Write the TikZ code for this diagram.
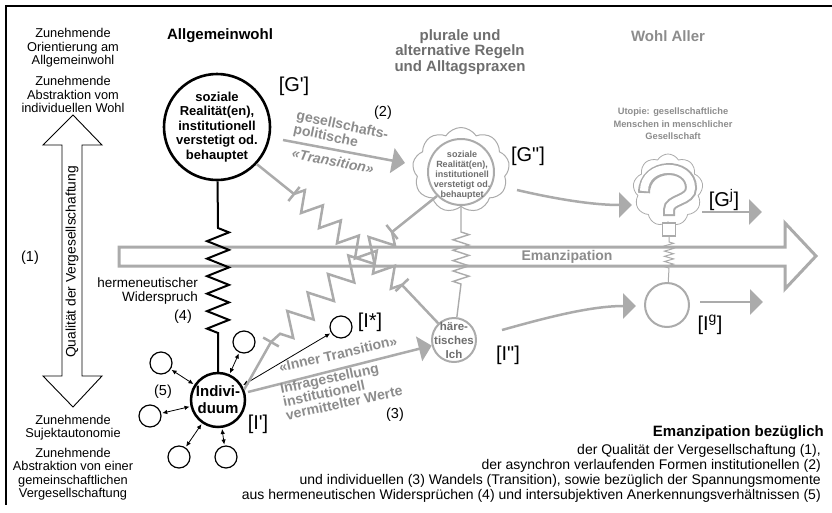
\documentclass[tikz,border=0pt]{standalone}
\usepackage{fontspec}
\setmainfont{Liberation Sans}
\usetikzlibrary{positioning,calc,arrows.meta,decorations.pathmorphing,shapes.symbols}
\definecolor{linegray}{HTML}{ABABAB}
\definecolor{txtgray}{HTML}{8C8C8C}
\definecolor{ttlgray}{HTML}{6E6E6E}
\newcommand{\fs}[2]{\fontsize{#1}{#2}\selectfont}

\begin{document}
\begin{tikzpicture}[x=1pt,y=-1pt,
  every node/.style={inner sep=0pt},
  side/.style={font=\fs{12.8}{13.5}, align=center},
  ttl/.style={font=\bfseries\fs{15}{15.5}, align=center},
  num/.style={font=\fs{14.5}{16}},
  lbl/.style={font=\fs{20}{22}},
  gtxt/.style={text=txtgray, font=\bfseries\fs{14}{14}},
  gline/.style={draw=linegray, line width=2.5pt},
  garrow/.style={gline, -{Triangle[length=13pt,width=25pt]}},
  gzz/.style={decorate, decoration={zigzag, segment length=#1, amplitude=10pt}},
  ring/.style={circle, draw, fill=white},
  sat/.style={ring, line width=1.2pt, minimum size=22pt},
  link/.style={{Latex[length=5pt,width=4.5pt]}-{Latex[length=5pt,width=4.5pt]}, line width=0.8pt, shorten <=1pt, shorten >=1pt}]
  \useasboundingbox (0,0) rectangle (832,512);
  % frame
  \draw[line width=1.2pt] (832,6) -- (6,6) -- (6,505);

  % left double arrow
  \draw[line width=0.9pt, fill=white] (73,115) -- (102,145) -- (82,145) -- (82,376) -- (102,376)
    -- (73,407) -- (43,376) -- (62,376) -- (62,145) -- (43,145) -- cycle;
  \node[font=\fs{13.8}{14}, rotate=90] (qual) at (72,262) {Qualität der Vergesellschaftung};
  \node[num] (n1) at (30,258) {(1)};
  \node[side] (orient) at (73,48) {Zunehmende\\Orientierung am\\Allgemeinwohl};
  \node[side] (abstr) at (73,94.5) {Zunehmende\\Abstraktion vom\\individuellen Wohl};
  \node[side] (auton) at (73,427.5) {Zunehmende\\Sujektautonomie};
  \node[side] (gemein) at (73,474) {Zunehmende\\Abstraktion von einer\\gemeinschaftlichen\\Vergesellschaftung};

  % Emanzipation arrow
  \draw[gline, line width=3pt, fill=white, line join=miter] (119,247) -- (785,247) -- (785,223)
    -- (816,256) -- (785,289) -- (785,266) -- (119,266) -- cycle;
  \node[gtxt] (eman) at (567,257) {Emanzipation};

  % titles
  \node[ttl] (allg) at (220,36) {Allgemeinwohl};
  \node[ttl, text=ttlgray] (plural) at (460,52) {plurale und\\alternative Regeln\\und Alltagspraxen};
  \node[ttl, text=txtgray] (aller) at (668,36) {Wohl Aller};
  \node[text=txtgray, font=\bfseries\fs{9.3}{12.5}, align=center] (utopie) at (673,124)
    {Utopie: gesellschaftliche\\Menschen in menschlicher\\Gesellschaft};

  % G'
  \node[ring, line width=2.6pt, minimum size=106pt] (Gp) at (217,127) {};
  \node[font=\bfseries\fs{13}{14.5}, align=center] (Gptxt) at (Gp) {soziale\\Realität(en),\\institutionell\\verstetigt od.\\behauptet};
  \node[lbl] (Gplbl) at (294,86) {[G\textquotesingle]};

  % Individuum
  \node[ring, line width=2.5pt, minimum size=54pt] (Ind) at (218,400) {};
  \node[font=\bfseries\fs{15}{17}, align=center] (Indtxt) at (Ind) {Indivi-\\duum};
  \node[lbl] (Indlbl) at (258,424) {[I\textquotesingle]};
  \foreach \n/\x/\y in {1/244/342, 2/161/363, 3/150/416, 4/179/457, 5/226/457} {
    \node[sat] (s\n) at (\x,\y) {};
    \draw[link] (Ind) -- (s\n);
  }
  \node[sat] (Istar) at (341,327) {};
  \draw[link] (Ind) -- (Istar);
  \node[lbl] (Istarlbl) at (370,322) {[I*]};
  \node[num] (n5) at (163,392) {(5)};

  % hermeneutic contradiction
  \coordinate (zb1) at (218,228);
  \coordinate (zb2) at (218,333);
  \draw[line width=2pt] (Gp) -- (zb1) decorate[decoration={zigzag, segment length=17.5pt, amplitude=11pt}] {-- (zb2)} -- (Ind);
  \node[font=\fs{13.5}{14}, align=right, anchor=east] (herm) at (198,291) {hermeneutischer\\Widerspruch};
  \node[num] (n4) at (183,317) {(4)};

  % G'' cloud
  \node[cloud, draw=linegray, line width=1pt, cloud puffs=9, cloud puff arc=115, aspect=1.15,
    minimum width=97pt, minimum height=85pt] (Gppcloud) at (461,170) {};
  \node[ring, draw=linegray, line width=2pt, minimum size=66pt] (Gpp) at (461,172) {};
  \node[text=ttlgray, font=\bfseries\fs{9}{10}, align=center] (Gpptxt) at (462,175)
    {soziale\\Realität(en),\\institutionell\\verstetigt od.\\behauptet};
  \node[lbl] (Gpplbl) at (528,156) {[G\textquotedbl]};

  % haeretisches Ich
  \node[ring, draw=linegray, line width=2pt, minimum size=44pt] (hI) at (454,340) {};
  \node[text=ttlgray, font=\bfseries\fs{11.5}{14}, align=center] (hItxt) at (hI) {häre-\\tisches\\Ich};
  \node[lbl] (hIlbl) at (508,355) {[I\textquotedbl]};

  % utopia
  \node[cloud, draw=linegray, line width=0.8pt, cloud puffs=9, cloud puff arc=120, aspect=1,
    minimum width=70pt, minimum height=72pt] (Gj) at (668,190) {};
  \draw[linegray, line width=12pt] (644,193) .. controls (644,162) and (691,162) .. (691,188)
    .. controls (691,201) and (669,199) .. (669,210) -- (669,216);
  \draw[white, line width=8pt, shorten <=2pt, shorten >=2pt] (644,193) .. controls (644,162) and (691,162) .. (691,188)
    .. controls (691,201) and (669,199) .. (669,210) -- (669,216);
  \node[draw=linegray, line width=1.8pt, fill=white, minimum size=13pt] (qdot) at (669,229.5) {};
  \node[lbl] (Gjlbl) at (724,200) {[G\textsuperscript{j}]};
  \node[ring, draw=linegray, line width=2pt, minimum size=44pt] (Ig) at (667,305) {};
  \node[lbl] (Iglbl) at (710,325) {[I\textsuperscript{g}]};

  % vertical links on the right
  \coordinate (c1) at (461,232);
  \coordinate (c2) at (461,284);
  \draw[draw=linegray, line width=1.4pt] (Gpp) -- (c1) decorate[decoration={zigzag, segment length=10.4pt, amplitude=8pt}] {-- (c2)} -- (hI);
  \coordinate (d1) at (669,242);
  \coordinate (d2) at (669,268);
  \draw[draw=linegray, line width=1pt] (qdot) -- (d1) decorate[decoration={zigzag, segment length=5.2pt, amplitude=4.5pt}] {-- (d2)} -- (Ig);

  % blocked links
  \coordinate (a0) at (Gp.-43);
  \coordinate (a1) at (294,194);
  \coordinate (a2) at (402,285);
  \draw[gline] (a0) -- (a1);
  \draw[gline] ($(a1)!9pt!90:(a0)$) -- ($(a1)!9pt!-90:(a0)$);
  \draw[gline, gzz=23.5pt] (a1) -- (a2);
  \draw[gline] ($(a2)!9pt!90:(hI)$) -- ($(a2)!9pt!-90:(hI)$);
  \draw[gline] (a2) -- (hI);

  \coordinate (b0) at (Gpp.225);
  \coordinate (b1) at (392,232);
  \coordinate (b2) at (271,342);
  \coordinate (b3) at (Ind.22);
  \draw[gline] (b0) -- (b1);
  \draw[gline] ($(b1)!9pt!90:(b0)$) -- ($(b1)!9pt!-90:(b0)$);
  \draw[gline, decorate, decoration={zigzag, segment length=27.5pt, amplitude=12pt}] (b1) -- (b2);
  \draw[gline] ($(b2)!9pt!90:(b3)$) -- ($(b2)!9pt!-90:(b3)$);
  \draw[gline] (b2) -- (b3);

  % transitions
  \coordinate (t2s) at (283,140);
  \coordinate (t2e) at (405,163);
  \draw[garrow] (t2s) -- (t2e);
  \node[gtxt, align=left, anchor=west, rotate=-12] (gespol) at (295,123) {gesellschafts-\\politische};
  \node[gtxt, font=\bfseries\itshape\fs{14}{14}, rotate=-11] (trans) at (333,161) {«Transition»};
  \node[num] (n2) at (383,113) {(2)};

  \coordinate (t3s) at (248,392);
  \draw[garrow] (t3s) -- (hI);
  \node[gtxt, rotate=13] (inner) at (338,354) {«Inner Transition»};
  \node[gtxt, font=\bfseries\fs{14}{13.5}, align=left, anchor=west, rotate=12] (infrage) at (283,402)
    {Infragestellung\\institutionell\\vermittelter Werte};
  \node[num] (n3) at (395,415) {(3)};

  \coordinate (t4s) at (517,190);
  \coordinate (t4e) at (632,205);
  \draw[garrow] (t4s) .. controls (560,200) and (595,205) .. (t4e);
  \coordinate (t5s) at (702,212);
  \coordinate (t5e) at (762,212);
  \draw[garrow] (t5s) -- (t5e);
  \coordinate (t6s) at (502,330);
  \coordinate (t6e) at (636,306);
  \draw[garrow] (t6s) .. controls (545,318) and (590,306) .. (t6e);
  \coordinate (t7s) at (700,302);
  \coordinate (t7e) at (763,302);
  \draw[garrow] (t7s) -- (t7e);

  % legend
  \node[font=\bfseries\fs{15}{16}, anchor=east] (embez) at (824,433) {Emanzipation bezüglich};
  \node[font=\fs{14}{15}, align=right, anchor=east] (embody) at (821,473)
    {der Qualität der Vergesellschaftung (1),\\der asynchron verlaufenden Formen institutionellen (2)\\und individuellen (3) Wandels (Transition), sowie bezüglich der Spannungsmomente\\aus hermeneutischen Widersprüchen (4) und intersubjektiven Anerkennungsverhältnissen (5)};
\end{tikzpicture}
\end{document}
